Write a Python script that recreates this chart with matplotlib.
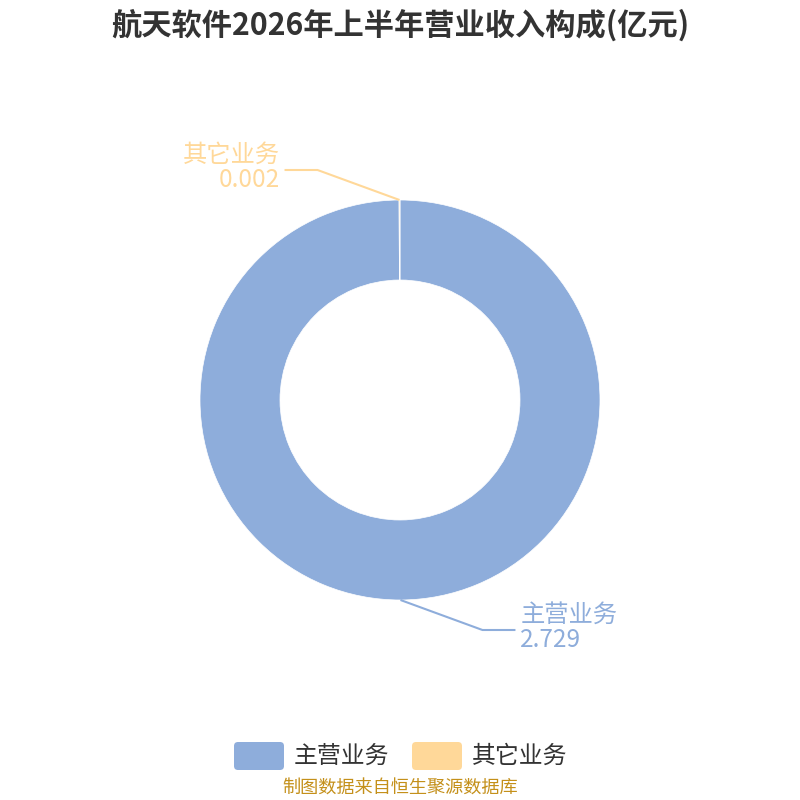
import numpy as np
import matplotlib
matplotlib.use('Agg')
import matplotlib.pyplot as plt
from matplotlib.patches import FancyBboxPatch

plt.rcParams['font.family'] = ['Noto Sans CJK SC', 'DejaVu Sans']

title = '航天软件2026年上半年营业收入构成(亿元)'
names = ['主营业务', '其它业务']
values = [2.729, 0.002]
colors = ['#8eaddb', '#ffd899']
source = '制图数据来自恒生聚源数据库'

fig = plt.figure(figsize=(8, 8), dpi=100)
ax = fig.add_axes([0, 0, 1, 1])

cx, cy, r_out, r_in = 400, 400, 200, 120
wedges, _ = ax.pie(values, colors=colors, startangle=90, counterclock=False,
                   center=(cx, cy), radius=r_out, frame=True,
                   wedgeprops=dict(width=r_out - r_in, edgecolor='white', linewidth=0.5))
ax.set_xlim(0, 800)
ax.set_ylim(0, 800)
ax.set_aspect('equal')
ax.axis('off')

# labels with leader lines
for w, name, val, col in zip(wedges, names, values, colors):
    ang = np.deg2rad((w.theta1 + w.theta2) / 2)
    ax_, ay_ = cx + r_out * np.cos(ang), cy + r_out * np.sin(ang)
    side = 1 if np.cos(ang) >= 0 else -1
    up = 1 if np.sin(ang) >= 0 else -1
    ex, ey = ax_ + side * 82, ay_ + up * 30
    hx = ex + side * 33
    ax.plot([ax_, ex, hx], [ay_, ey, ey], color=col, lw=1.5, solid_capstyle='butt')
    tx = hx + side * 5
    ha = 'left' if side > 0 else 'right'
    ax.text(tx, ey + 2, name, color=col, fontsize=17.5, ha=ha, va='bottom')
    ax.text(tx, ey + 3, f'{val:.3f}', color=col, fontsize=17.5, ha=ha, va='top')

fig.text(0.5, 1 - 25 / 800, title, ha='center', va='center',
         fontsize=21.8, fontweight='bold', color='#333333')

# legend
lx = [234, 412]
for x0, name, col in zip(lx, names, colors):
    ax.add_patch(FancyBboxPatch((x0 + 4, 800 - 770 + 4), 42, 20,
                                boxstyle='round,pad=4', fc=col, ec='none'))
    ax.text(x0 + 60, 800 - 756, name, fontsize=17.2, color='#333333',
            ha='left', va='center')

fig.text(0.5, 1 - 789 / 800, source, ha='center', va='center',
         fontsize=13.1, color='#c4901a')

fig.savefig('out.png', dpi=100)
